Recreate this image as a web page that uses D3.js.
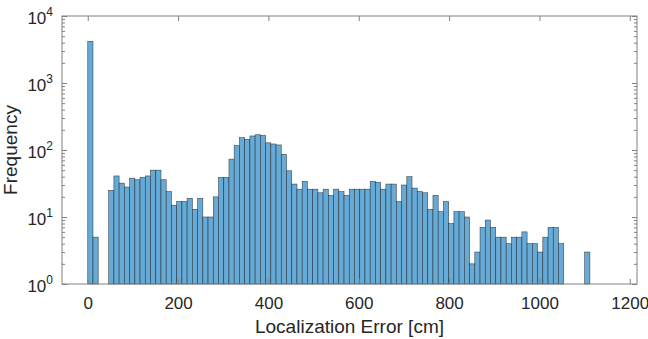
<!DOCTYPE html>
<html>
<head>
<meta charset="utf-8">
<script src="https://cdn.jsdelivr.net/npm/d3@7"></script>
<style>
  body { margin: 0; background: #fff; }
  text { font-family: "Liberation Sans", Arial, sans-serif; fill: #262626; }
</style>
</head>
<body>
<div id="graph"></div>
<script>
/*
    Histogram data (bin width in cm, one count per bin)
*/
var binWidth = 11.58

var counts = [4190, 5, 0, 0, 25, 41, 32, 28, 38, 36,
              39, 41, 50, 50, 36, 24, 15, 17, 17, 19,
              13, 19, 10, 10, 20, 39, 39, 73, 116, 153,
              144, 162, 169, 166, 128, 123, 119, 86, 49, 31,
              26, 34, 26, 26, 23, 26, 21, 26, 24, 21,
              26, 26, 26, 26, 34, 33, 26, 31, 31, 17,
              30, 40, 27, 24, 23, 13, 21, 12, 17, 8,
              12, 12, 10, 2, 3, 7, 9, 7, 5, 5,
              4, 5, 5, 6, 4, 4, 3, 5, 7, 7,
              4, 0, 0, 0, 0, 3]

var xTicks = [0, 200, 400, 600, 800, 1000, 1200]
var yTicks = [1, 10, 100, 1000, 10000]

var xLabel = "Localization Error [cm]",
    yLabel = "Frequency"

// Set the dimensions and margins of the graph
var containerSize = { width: 648, height: 339 }

var margin = {top: 16, right: 11, bottom: 55, left: 62},
    width = containerSize.width - margin.left - margin.right,
    height = containerSize.height - margin.top - margin.bottom;

var svg = d3.select("#graph").append("svg")
            .attr("width", containerSize.width)
            .attr("height", containerSize.height)
            .append("g")
            .attr("transform",
                  "translate(" + margin.left + "," + margin.top + ")");

// Set the ranges
var x = d3.scaleLinear()
          .domain([-57, 1216])
          .range([0, width]),
    y = d3.scaleLog()
          .domain([1, 10000])
          .range([height, 0]);

// bins, skipping the empty ones
var bins = counts.map(function(c, i) {
    return {x0: i * binWidth, x1: (i + 1) * binWidth, count: c}
}).filter(function(d) { return d.count > 0 })

svg.selectAll(".bar")
   .data(bins)
   .enter().append("rect")
   .attr("class", "bar")
   .attr("x", function(d) { return x(d.x0) })
   .attr("width", function(d) { return x(d.x1) - x(d.x0) })
   .attr("y", function(d) { return y(d.count) })
   .attr("height", function(d) { return y(1) - y(d.count) })
   .attr("fill", "#66aad7")
   .attr("stroke", "#1a1a1a")
   .attr("stroke-opacity", 0.75)
   .attr("stroke-width", 0.6)

// minor ticks for the log axis
var minor = []
yTicks.slice(0, -1).forEach(function(t) {
    for (var m = 2; m < 10; m++) minor.push(t * m)
})

function axisStyle(g) {
    g.select(".domain").remove()
    g.selectAll("line").attr("stroke", "#808080")
}

// x axes, ticks inside
svg.append("g")
   .attr("transform", "translate(0," + height + ")")
   .call(d3.axisBottom(x).tickValues(xTicks).tickFormat(d3.format("d"))
           .tickSizeInner(-5).tickSizeOuter(0).tickPadding(13))
   .call(axisStyle)
   .selectAll("text")
   .attr("font-size", 17)
   .attr("fill", "#262626")

svg.append("g")
   .call(d3.axisTop(x).tickValues(xTicks).tickSizeInner(-5).tickSizeOuter(0).tickFormat(""))
   .call(axisStyle)

// y axes, major and minor ticks on both sides
svg.append("g")
   .call(d3.axisLeft(y).tickValues(minor).tickSizeInner(-3).tickSizeOuter(0).tickFormat(""))
   .call(axisStyle)
svg.append("g")
   .attr("transform", "translate(" + width + ",0)")
   .call(d3.axisRight(y).tickValues(minor).tickSizeInner(-3).tickSizeOuter(0).tickFormat(""))
   .call(axisStyle)
svg.append("g")
   .attr("transform", "translate(" + width + ",0)")
   .call(d3.axisRight(y).tickValues(yTicks).tickSizeInner(-5).tickSizeOuter(0).tickFormat(""))
   .call(axisStyle)

var yAxis = svg.append("g")
   .call(d3.axisLeft(y).tickValues(yTicks).tickSizeInner(-5).tickSizeOuter(0).tickFormat(""))
   .call(axisStyle)

// 10^n labels
yAxis.selectAll(".tick").append("text")
   .attr("x", -9)
   .attr("y", 7)
   .attr("text-anchor", "end")
   .attr("font-size", 17)
   .attr("fill", "#262626")
   .each(function(d) {
       var t = d3.select(this)
       t.append("tspan").text("10")
       t.append("tspan")
        .attr("dy", -8)
        .attr("font-size", 12)
        .text(Math.round(Math.log10(d)))
   })

// box
svg.append("rect")
   .attr("width", width)
   .attr("height", height)
   .attr("fill", "none")
   .attr("stroke", "#808080")
   .attr("stroke-width", 1)

// axis labels
svg.append("text")
   .attr("x", width / 2)
   .attr("y", height + 49)
   .attr("text-anchor", "middle")
   .attr("font-size", 19)
   .text(xLabel)

svg.append("text")
   .attr("transform", "translate(" + (-45) + "," + (height / 2) + ") rotate(-90)")
   .attr("text-anchor", "middle")
   .attr("font-size", 19)
   .text(yLabel)
</script>
</body>
</html>
